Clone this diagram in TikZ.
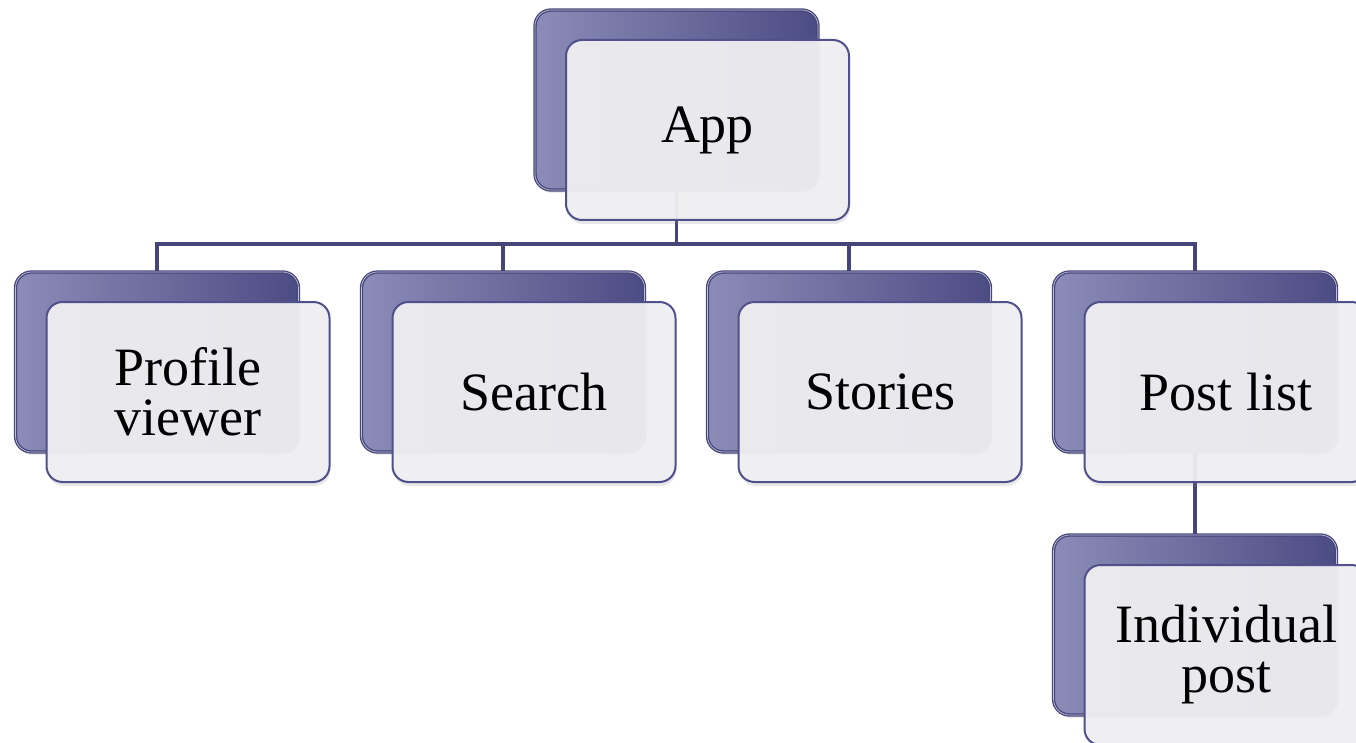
\documentclass[tikz,border=0pt]{standalone}
\usepackage{fontspec}
\setmainfont{Liberation Serif}
\usetikzlibrary{shadows}
\definecolor{boxlight}{HTML}{8C8CB8}
\definecolor{boxdark}{HTML}{4C4C84}
\definecolor{boxline}{HTML}{45457A}
\definecolor{cardfill}{HTML}{EFEFF2}
\definecolor{cardline}{HTML}{50508A}

\begin{document}
\begin{tikzpicture}[x=1pt,y=-1pt]
	\tikzstyle{every node}+=[inner sep=0pt]
	\tikzstyle{backbox}=[rectangle, rounded corners=16pt, minimum width=283pt, minimum height=180pt, left color=boxlight, right color=boxdark, draw=boxline, double=boxlight!55!white, double distance=0.7pt, line width=1.3pt, drop shadow={shadow xshift=1pt, shadow yshift=-3pt, opacity=0.15}]
	\tikzstyle{frontbox}=[rectangle, rounded corners=16pt, minimum width=283pt, minimum height=180pt, fill=cardfill, fill opacity=0.95, text opacity=1, draw=cardline, line width=2pt, align=center, font=\fontsize{54}{50}\selectfont, drop shadow={shadow xshift=1pt, shadow yshift=-4pt, opacity=0.18}]
	\tikzstyle{link}=[draw=boxline, line width=3.2pt]
	\useasboundingbox (0,0) rectangle (1356,743);
	\node [backbox] (appbk) at (676.5,100) {};
	\node [backbox] (profilebk) at (157,362) {};
	\node [backbox] (searchbk) at (503,362) {};
	\node [backbox] (storiesbk) at (849,362) {};
	\node [backbox] (postlistbk) at (1195,362) {};
	\node [backbox] (postbk) at (1195,625) {};
	\coordinate (bus) at (676.5,244);
	\draw [link] (appbk.south) -- (bus);
	\draw [link] (bus) -| (profilebk.north);
	\draw [link] (bus) -| (searchbk.north);
	\draw [link] (bus) -| (storiesbk.north);
	\draw [link] (bus) -| (postlistbk.north);
	\draw [link] (postlistbk.south) -- (postbk.north);
	\node [frontbox] (app) at (707.5,130) {App};
	\node [frontbox] (profile) at (188,392) {Profile\\viewer};
	\node [frontbox] (search) at (534,392) {Search};
	\node [frontbox] (stories) at (880,392) {Stories};
	\node [frontbox] (postlist) at (1226,392) {Post list};
	\node [frontbox] (post) at (1226,655) {Individual\\post};
\end{tikzpicture}
\end{document}
